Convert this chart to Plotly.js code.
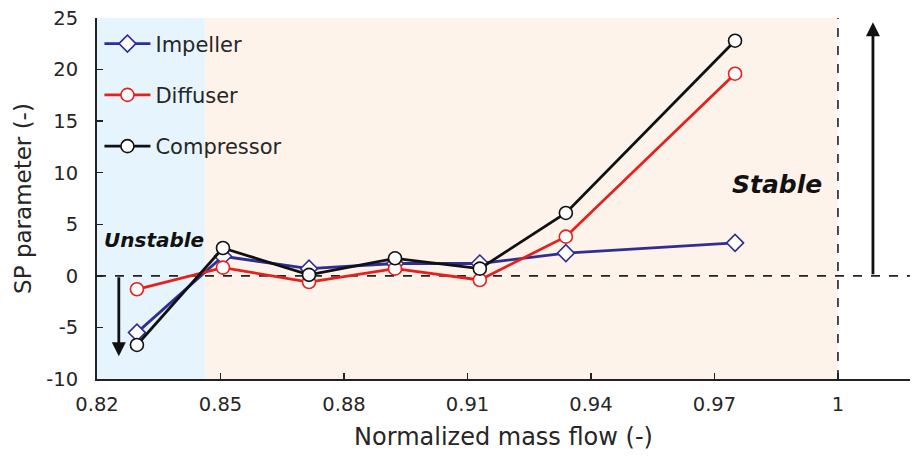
<!DOCTYPE html>
<html>
<head>
<meta charset="utf-8">
<script src="https://cdn.plot.ly/plotly-3.0.1.min.js"></script>
<style>html,body{margin:0;padding:0;background:#fff;}#chart{width:913px;height:457px;}</style>
</head>
<body>
<div id="chart"></div>
<script>
const massFlow = [0.8297, 0.8506, 0.8715, 0.8924, 0.913, 0.9339, 0.975];
const impeller = [-5.5, 1.9, 0.7, 1.2, 1.2, 2.2, 3.2];
const diffuser = [-1.3, 0.8, -0.6, 0.7, -0.4, 3.8, 19.6];
const compressor = [-6.7, 2.7, 0.1, 1.7, 0.7, 6.1, 22.8];
const seriesNames = ['Impeller', 'Diffuser', 'Compressor'];
const xTicks = [0.82, 0.85, 0.88, 0.91, 0.94, 0.97, 1];
const xTickLabels = ['0.82', '0.85', '0.88', '0.91', '0.94', '0.97', '1'];
const yTicks = [-10, -5, 0, 5, 10, 15, 20, 25];
const yTickLabels = ['-10', '-5', '0', '5', '10', '15', '20', '25'];
const unstableEdge = 0.8462;
const stableEdge = 1.0;

const font = '"DejaVu Sans", Verdana, sans-serif';

function trace(y, name, color, symbol, group) {
  return {
    x: massFlow, y: y, name: name, type: 'scatter', mode: 'lines+markers',
    legendgroup: group,
    line: {color: color, width: 2.8},
    marker: {symbol: symbol, size: 13, color: '#ffffff', line: {color: color, width: 1.6}}
  };
}

const data = [
  trace(impeller, seriesNames[0], '#2e2e95', 'diamond', 'a'),
  trace(diffuser, seriesNames[1], '#e8201c', 'circle', 'b'),
  trace(compressor, seriesNames[2], '#111111', 'circle', 'c')
];

const layout = {
  width: 913, height: 457,
  margin: {l: 97, r: 3, t: 18, b: 78},
  paper_bgcolor: '#ffffff', plot_bgcolor: '#ffffff',
  font: {family: font, size: 19, color: '#262626'},
  showlegend: true,
  legend: {x: 0.003, y: 0.985, xanchor: 'left', yanchor: 'top', bgcolor: 'rgba(0,0,0,0)',
           font: {family: font, size: 21, color: '#262626'}, tracegroupgap: 21, itemwidth: 46},
  xaxis: {
    range: [0.82, 1.0175], tickvals: xTicks, ticktext: xTickLabels,
    ticks: 'inside', ticklen: 6, tickwidth: 1.5, tickcolor: '#222', ticklabelstandoff: 7,
    showline: true, linecolor: '#222', linewidth: 2, showgrid: false, zeroline: false,
    title: {text: 'Normalized mass flow (-)', font: {family: font, size: 24}, standoff: 13},
    tickfont: {family: font, size: 19.5}
  },
  yaxis: {
    range: [-10, 25], tickvals: yTicks, ticktext: yTickLabels,
    ticks: 'inside', ticklen: 6, tickwidth: 1.5, tickcolor: '#222', ticklabelstandoff: 13,
    showline: true, linecolor: '#222', linewidth: 2, showgrid: false, zeroline: false,
    title: {text: 'SP parameter (-)', font: {family: font, size: 23}, standoff: 8},
    tickfont: {family: font, size: 19.5}
  },
  shapes: [
    {type: 'rect', xref: 'x', yref: 'paper', x0: 0.82, x1: unstableEdge, y0: 0, y1: 1,
     fillcolor: '#e6f5fd', line: {width: 0}, layer: 'below'},
    {type: 'rect', xref: 'x', yref: 'paper', x0: unstableEdge, x1: stableEdge, y0: 0, y1: 1,
     fillcolor: '#fdf3ea', line: {width: 0}, layer: 'below'},
    {type: 'line', xref: 'paper', yref: 'y', x0: 0, x1: 1, y0: 0, y1: 0,
     line: {color: '#222', width: 1.6, dash: 'dash'}, layer: 'below'},
    {type: 'line', xref: 'x', yref: 'paper', x0: stableEdge, x1: stableEdge, y0: 0, y1: 1,
     line: {color: '#222', width: 1.6, dash: 'dash'}, layer: 'below'}
  ],
  annotations: [
    {x: 0.8253, y: -7.8, ax: 0.8253, ay: 0, xref: 'x', yref: 'y', axref: 'x', ayref: 'y',
     showarrow: true, arrowhead: 2, arrowsize: 1, arrowwidth: 2.8, arrowcolor: '#111', text: ''},
    {x: 1.0085, y: 24.6, ax: 1.0085, ay: 0, xref: 'x', yref: 'y', axref: 'x', ayref: 'y',
     showarrow: true, arrowhead: 2, arrowsize: 1, arrowwidth: 2.8, arrowcolor: '#111', text: ''},
    {x: 0.8211, y: 3.5, xref: 'x', yref: 'y', xanchor: 'left', yanchor: 'middle', showarrow: false,
     text: '<b><i>Unstable</i></b>', font: {family: font, size: 20, color: '#111'}},
    {x: 0.9737, y: 8.9, xref: 'x', yref: 'y', xanchor: 'left', yanchor: 'middle', showarrow: false,
     text: '<b><i>Stable</i></b>', font: {family: font, size: 25, color: '#111'}}
  ]
};

Plotly.newPlot('chart', data, layout, {displayModeBar: false, staticPlot: true});
</script>
</body>
</html>
